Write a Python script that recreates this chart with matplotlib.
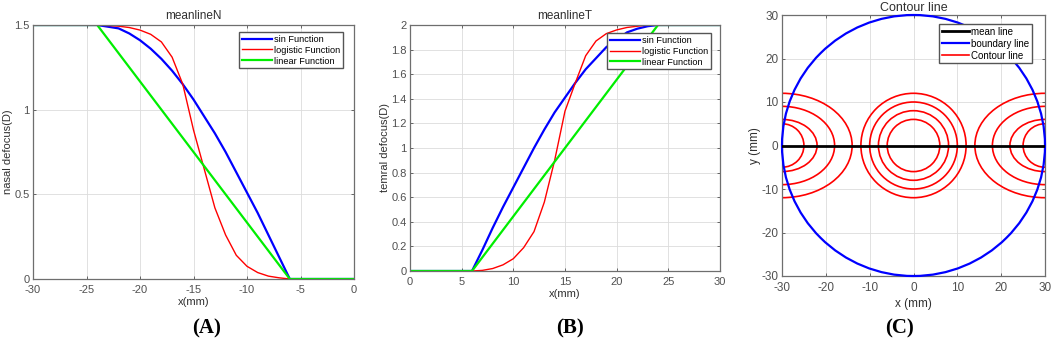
import numpy as np
import matplotlib
matplotlib.use('Agg')
import matplotlib.pyplot as plt
from matplotlib.patches import Ellipse, Circle
from matplotlib.lines import Line2D

plt.rcParams['font.family'] = ['Liberation Sans', 'DejaVu Sans']
plt.rcParams['axes.unicode_minus'] = False

# ---------------------------------------------------------------------------
# datos
# ---------------------------------------------------------------------------
# (A) meanlineN
xN = [-30, -24, -23, -22, -21, -20, -19, -18, -17, -16, -15, -14, -13, -12,
      -11, -10, -9, -8, -7, -6, 0]
sinN = [1.5, 1.5, 1.49, 1.48, 1.45, 1.41, 1.36, 1.30, 1.23, 1.15, 1.06, 0.96,
        0.86, 0.75, 0.63, 0.51, 0.39, 0.26, 0.13, 0.0, 0.0]
logN = [1.5, 1.5, 1.497, 1.493, 1.485, 1.47, 1.445, 1.40, 1.31, 1.15, 0.88,
        0.65, 0.42, 0.26, 0.14, 0.075, 0.038, 0.017, 0.007, 0.0, 0.0]
linN_x = [-30, -24, -6, 0]
linN_y = [1.5, 1.5, 0.0, 0.0]

# (B) meanlineT
xT = [0, 6, 7, 8, 9, 10, 11, 12, 13, 14, 15, 16, 17, 18, 19, 20, 21, 22, 23,
      24, 30]
sinT = [0.0, 0.0, 0.17, 0.35, 0.52, 0.68, 0.84, 1.0, 1.15, 1.29, 1.41, 1.53,
        1.64, 1.73, 1.82, 1.88, 1.94, 1.97, 1.99, 2.0, 2.0]
logT = [0.0, 0.0, 0.005, 0.02, 0.05, 0.10, 0.19, 0.32, 0.56, 0.90, 1.30, 1.53,
        1.75, 1.87, 1.93, 1.96, 1.98, 1.99, 2.0, 2.0, 2.0]
linT_x = [0, 6, 24, 30]
linT_y = [0.0, 0.0, 2.0, 2.0]

# (C) Contour line
mean_x = [-30, 30]
mean_y = [0, 0]
boundary_r = 30
centro_radios = [6, 8, 10, 12]
lado_semi_x = [5, 8, 12, 16]
lado_semi_y = [5, 6, 9, 12]
lado_centros = [-30, 30]

W, H = 1052, 341
fig = plt.figure(figsize=(W / 100, H / 100), dpi=100)


def pos(l, t, r, b):
    return [l / W, (H - b) / H, (r - l) / W, (b - t) / H]


gris = '#505050'
texto = '#303030'


def estilo_matlab(ax):
    ax.grid(True, color='#dcdcdc', linewidth=0.6)
    ax.set_axisbelow(True)
    ax.tick_params(direction='in', length=2.5, width=0.6, colors=gris,
                   labelsize=8, top=True, right=True, pad=2.5)
    ax.tick_params(axis='x', pad=4)
    for s in ax.spines.values():
        s.set_color('#6e6e6e')
        s.set_linewidth(0.9)


leg_kw = dict(loc='upper right', fontsize=6.6, fancybox=False,
              edgecolor='#555555', framealpha=1, handlelength=3.3,
              handletextpad=0.2, borderpad=0.3, labelspacing=0.2)

# ----------------------------------------------------------------------------
# (A)
# ----------------------------------------------------------------------------
axA = fig.add_axes(pos(33, 25, 354, 279))
axA.plot(xN, sinN, color='blue', lw=1.6, label='sin Function')
axA.plot(xN, logN, color='red', lw=1.0, label='logistic Function')
axA.plot(linN_x, linN_y, color='#00ee00', lw=1.6, label='linear Function')
axA.set_xlim(-30, 0)
axA.set_ylim(0, 1.5)
axA.set_xticks([-30, -25, -20, -15, -10, -5, 0])
axA.set_yticks([0, 0.5, 1, 1.5])
axA.set_yticklabels(['0', '0.5', '1', '1.5'])
axA.set_title('meanlineN', fontsize=8.5, color=texto, pad=4)
axA.set_xlabel('x(mm)', fontsize=8, color=texto, labelpad=2)
axA.set_ylabel('nasal defocus(D)', fontsize=8, color=texto, labelpad=1)
estilo_matlab(axA)
axA.legend(bbox_to_anchor=(0.98, 0.99), **leg_kw)

# ----------------------------------------------------------------------------
# (B)
# ----------------------------------------------------------------------------
axB = fig.add_axes(pos(410, 25, 720, 271))
axB.plot(xT, sinT, color='blue', lw=1.6, label='sin Function')
axB.plot(xT, logT, color='red', lw=1.0, label='logistic Function')
axB.plot(linT_x, linT_y, color='#00ee00', lw=1.6, label='linear Function')
axB.set_xlim(0, 30)
axB.set_ylim(0, 2)
axB.set_xticks([0, 5, 10, 15, 20, 25, 30])
axB.set_yticks(np.arange(0, 2.01, 0.2))
axB.set_yticklabels(['0', '0.2', '0.4', '0.6', '0.8', '1', '1.2', '1.4',
                     '1.6', '1.8', '2'])
axB.set_title('meanlineT', fontsize=8.5, color=texto, pad=4)
axB.set_xlabel('x(mm)', fontsize=8, color=texto, labelpad=2)
axB.set_ylabel('temral defocus(D)', fontsize=8, color=texto, labelpad=1)
estilo_matlab(axB)
axB.legend(bbox_to_anchor=(0.985, 0.985), **leg_kw)

# ----------------------------------------------------------------------------
# (C)
# ----------------------------------------------------------------------------
axC = fig.add_axes(pos(782, 15, 1045, 276))
for r in centro_radios:
    axC.add_patch(Circle((0, 0), r, fill=False, ec='red', lw=1.2))
for cx in lado_centros:
    for a, b in zip(lado_semi_x, lado_semi_y):
        axC.add_patch(Ellipse((cx, 0), 2 * a, 2 * b, fill=False, ec='red',
                              lw=1.2))
axC.add_patch(Circle((0, 0), boundary_r, fill=False, ec='blue', lw=1.6,
                     clip_on=False, zorder=3))
axC.plot(mean_x, mean_y, color='black', lw=2.0, zorder=4)
axC.set_xlim(-30, 30)
axC.set_ylim(-30, 30)
axC.set_xticks(np.arange(-30, 31, 10))
axC.set_yticks(np.arange(-30, 31, 10))
axC.set_title('Contour line', fontsize=9, color=texto, pad=3)
axC.set_xlabel('x (mm)', fontsize=8.5, color=texto, labelpad=3)
axC.set_ylabel('y (mm)', fontsize=8.5, color=texto, labelpad=0)
estilo_matlab(axC)
axC.tick_params(labelsize=8.5)
handles = [Line2D([], [], color='black', lw=2.0),
           Line2D([], [], color='blue', lw=1.6),
           Line2D([], [], color='red', lw=1.2)]
leg_c = dict(leg_kw)
leg_c.update(fontsize=7, handlelength=2.8)
axC.legend(handles, ['mean line', 'boundary line', 'Contour line'],
           bbox_to_anchor=(0.97, 0.985), **leg_c)

# etiquetas de panel
for x, lab in zip([207, 570, 899], ['(A)', '(B)', '(C)']):
    fig.text(x / W, 1 - 328 / H, lab, ha='center', va='center',
             fontsize=15, fontweight='bold', family='Liberation Serif')

fig.savefig('out.png', dpi=100)
